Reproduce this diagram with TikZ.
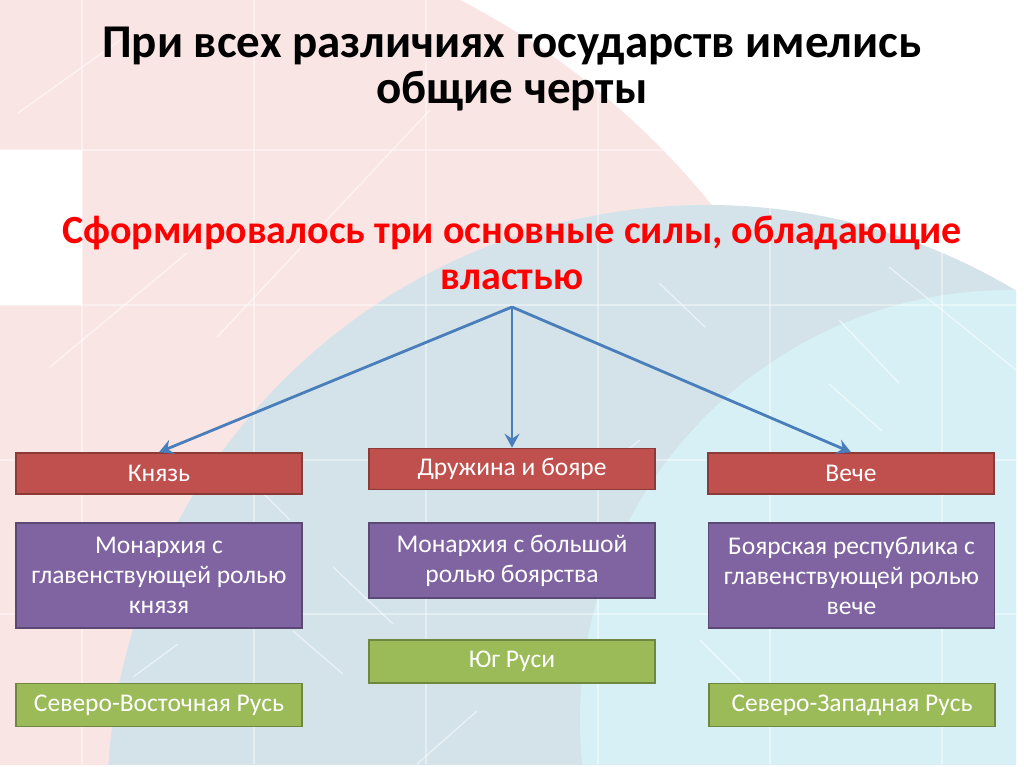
\documentclass[tikz,border=0pt]{standalone}
\usepackage{fontspec}
\setmainfont{Carlito}
\usetikzlibrary{arrows.meta}

\begin{document}
\begin{tikzpicture}[x=1pt, y=-1pt,
  card/.style={draw=#1!72!black, fill=#1, line width=1.6pt,
    minimum width=286pt, inner sep=0pt, text=white, align=center,
    font=\fontsize{25.5}{30}\selectfont},
  power/.style={card=cPower, minimum height=41pt},
  regime/.style={card=cRegime},
  land/.style={card=cLand, minimum height=43pt},
  link/.style={draw=cLink, line width=2.8pt,
    -{Stealth[length=14pt, width=15pt, inset=5pt]}},
  streak/.style={white, opacity=.55, line width=1.3pt}]

\definecolor{cPink}{RGB}{250,229,229}
\definecolor{cSea}{RGB}{211,227,233}
\definecolor{cCyan}{RGB}{215,240,245}
\definecolor{cPower}{HTML}{C0504D}
\definecolor{cRegime}{HTML}{8064A2}
\definecolor{cLand}{HTML}{9BBB59}
\definecolor{cLink}{HTML}{4A7EBB}

\useasboundingbox (0,0) rectangle (1024,767);

%% ---------- slide background ----------
\begin{scope}
  \clip (0,0) rectangle (1016,764);
  \fill[cPink] (100,700) circle[radius=787];
  \fill[white] (0,150) rectangle (82,305);
  \fill[cSea] (707,805) circle[radius=600];
  \begin{scope}
    \clip (707,805) circle[radius=600];
    \fill[cCyan] (1010,720) circle[radius=430];
  \end{scope}
  \foreach \x in {82,254,426,598,770,942}
    \draw[white, opacity=.4, line width=1.2pt] (\x,0) -- (\x,764);
  \foreach \y in {150,305,460,614}
    \draw[white, opacity=.4, line width=1.2pt] (0,\y) -- (1016,\y);
  %% diagonal streaks
  \foreach \ax/\ay/\bx/\by in {18/113/130/33, 50/367/187/253, 217/337/430/110,
      659/283/705/327, 839/320/899/383, 889/267/1016/370, 333/567/393/624,
      293/631/343/674, 178/644/133/677, 477/711/417/764, 829/384/882/431,
      600/470/640/440, 240/470/290/520, 700/640/760/700}
    \draw[streak] (\ax,\ay) -- (\bx,\by);
\end{scope}

%% ---------- headings ----------
\node[font=\bfseries\fontsize{47}{46}\selectfont, align=center] (head)
  at (512,69) {При всех различиях государств имелись\\общие черты};
\node[font=\bfseries\fontsize{40}{46}\selectfont, align=center,
  text={rgb,255:red,255;green,0;blue,0}] (forces)
  at (512,253) {Сформировалось три основные силы, обладающие\\властью};
\coordinate (fork) at (512,307);

%% ---------- three powers ----------
\node[power] (prince) at (159,473.5) {Князь};
\node[power] (boyars) at (512,469)   {Дружина и бояре};
\node[power] (veche)  at (851,473.5) {Вече};

\foreach \t in {prince, boyars, veche}
  \draw[link] (fork) -- (\t.north);

%% ---------- forms of rule ----------
\node[regime, minimum height=105pt] (monarchy) at (159,575.5)
  {Монархия с\\главенствующей ролью\\князя};
\node[regime, minimum height=75pt] (mixed) at (512,560.5)
  {Монархия с большой\\ролью боярства};
\node[regime, minimum height=105pt] (republic) at (851.5,575.5)
  {Боярская республика с\\главенствующей ролью\\вече};

%% ---------- lands ----------
\node[land] (northeast) at (159,705)   {Северо-Восточная Русь};
\node[land] (south)     at (512,661.5) {Юг Руси};
\node[land] (northwest) at (852,705)   {Северо-Западная Русь};

\end{tikzpicture}
\end{document}
